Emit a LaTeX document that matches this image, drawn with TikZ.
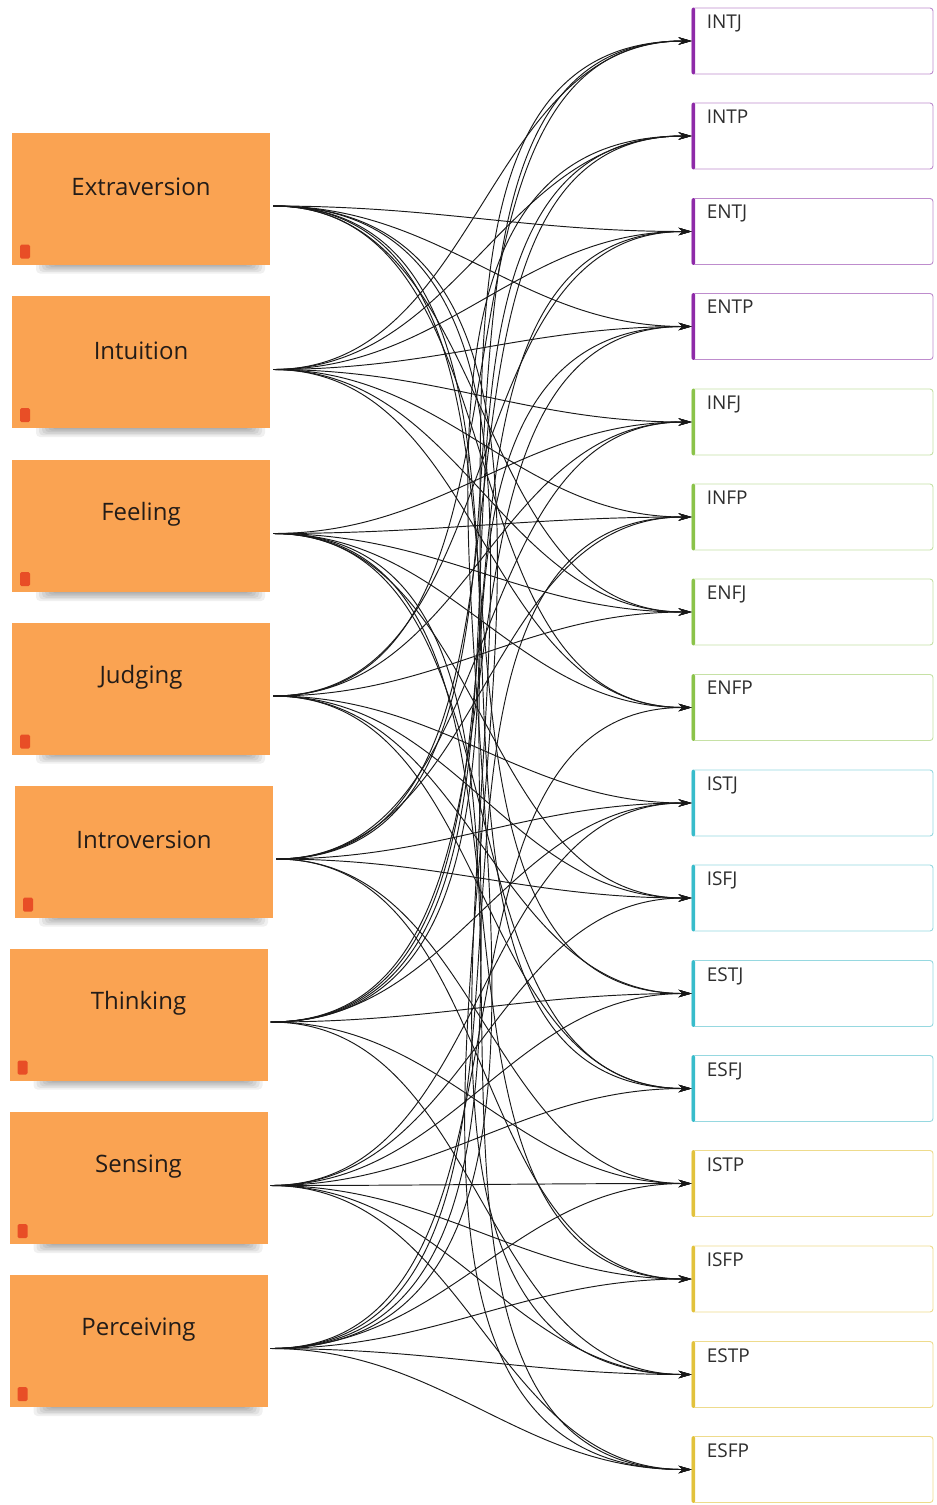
\documentclass[tikz,border=0pt]{standalone}
\usepackage{fontspec}
\setmainfont{Open Sans}
\usetikzlibrary{arrows.meta,calc}

\definecolor{notefill}{RGB}{250,163,82}
\definecolor{pinred}{RGB}{232,78,38}
\definecolor{ntbar}{RGB}{142,42,168}
\definecolor{ntline}{RGB}{190,140,205}
\definecolor{nfbar}{RGB}{139,195,74}
\definecolor{nfline}{RGB}{198,225,165}
\definecolor{sjbar}{RGB}{56,188,203}
\definecolor{sjline}{RGB}{150,216,224}
\definecolor{spbar}{RGB}{226,194,60}
\definecolor{spline}{RGB}{238,219,140}
\definecolor{ink}{RGB}{35,28,24}

\tikzset{
  sticky/.style={rectangle, fill=notefill, minimum width=258pt, minimum height=132pt,
    inner sep=0pt},
  notetext/.style={font=\fontsize{24}{28}\selectfont, text=ink, inner sep=0pt},
  typebox/.style={rectangle, rounded corners=3pt, draw=#1, line width=0.9pt,
    fill=white, minimum width=241pt, minimum height=66pt, inner sep=0pt},
  typetext/.style={font=\fontsize{19}{22}\selectfont, text=black!82, inner sep=0pt,
    anchor=north west},
  link/.style={draw=black!90, line width=0.95pt,
    -{Stealth[length=13pt,width=7.5pt]}},
}

% sticky note with its soft shadow and the small red pin
\newcommand{\stickynote}[4]{% name, x, y, text
  \begin{scope}
    \foreach \k in {0,...,6}
      \fill[black, opacity=0.06, rounded corners=4pt]
        (#2-105+\k*3, #3+56) rectangle (#2+124-\k*3, #3+75-\k*1.6);
  \end{scope}
  \node[sticky] (#1) at (#2,#3) {};
  \node[notetext] (#1-label) at (#2,#3-11.5) {#4};
  \fill[pinred, rounded corners=1.5pt] (#2-121,#3+46) rectangle (#2-111,#3+60);
}

% type box with its coloured left bar
\newcommand{\typecard}[4]{% name, y, bar colour, line colour
  \node[typebox=#4] (#1) at (812.5,#2) {};
  \fill[#3, rounded corners=1.5pt] (#1.north west) rectangle ([xshift=3.5pt]#1.south west);
  \node[typetext] (#1-label) at ([xshift=15pt,yshift=-7pt]#1.north west) {#1};
}

\begin{document}
\begin{tikzpicture}[x=1pt, y=-1pt]
\useasboundingbox (0,0) rectangle (937,1505);
\fill[white] (0,0) rectangle (937,1505);

% trait notes
\stickynote{E}{141}{198.5}{Extraversion}
\stickynote{N}{141}{362}{Intuition}
\stickynote{F}{141}{526}{Feeling}
\stickynote{J}{141}{688.5}{Judging}
\stickynote{I}{144}{851.5}{Introversion}
\stickynote{T}{138.5}{1014.5}{Thinking}
\stickynote{S}{138.5}{1178}{Sensing}
\stickynote{P}{138.5}{1341}{Perceiving}

% sixteen types
\typecard{INTJ}{41}{ntbar}{ntline}
\typecard{INTP}{136}{ntbar}{ntline}
\typecard{ENTJ}{231.5}{ntbar}{ntline}
\typecard{ENTP}{326.5}{ntbar}{ntline}
\typecard{INFJ}{422}{nfbar}{nfline}
\typecard{INFP}{517}{nfbar}{nfline}
\typecard{ENFJ}{612}{nfbar}{nfline}
\typecard{ENFP}{707.5}{nfbar}{nfline}
\typecard{ISTJ}{803}{sjbar}{sjline}
\typecard{ISFJ}{898}{sjbar}{sjline}
\typecard{ESTJ}{993.5}{sjbar}{sjline}
\typecard{ESFJ}{1088.5}{sjbar}{sjline}
\typecard{ISTP}{1183.5}{spbar}{spline}
\typecard{ISFP}{1279}{spbar}{spline}
\typecard{ESTP}{1374.5}{spbar}{spline}
\typecard{ESFP}{1469.5}{spbar}{spline}

% every type is reached from its four letters; horizontal tangents at both
% ends, handle length proportional to the span (computed at 1/10 scale)
\foreach \ty/\la/\lb/\lc/\ld in {
  INTJ/I/N/T/J, INTP/I/N/T/P, ENTJ/E/N/T/J, ENTP/E/N/T/P,
  INFJ/I/N/F/J, INFP/I/N/F/P, ENFJ/E/N/F/J, ENFP/E/N/F/P,
  ISTJ/I/S/T/J, ISFJ/I/S/F/J, ESTJ/E/S/T/J, ESFJ/E/S/F/J,
  ISTP/I/S/T/P, ISFP/I/S/F/P, ESTP/E/S/T/P, ESFP/E/S/F/P}
{
  \foreach \src in {\la,\lb,\lc,\ld}
    \draw[link] let \p1=([xshift=3pt,yshift=-7.5pt]\src.east), \p2=(\ty.west),
      \n1={3.915*veclen((\x2-\x1)/10,(\y2-\y1)/10)} in
      (\p1) .. controls +(\n1,0pt) and +(-\n1,0pt) .. (\p2);
}
\end{tikzpicture}
\end{document}
